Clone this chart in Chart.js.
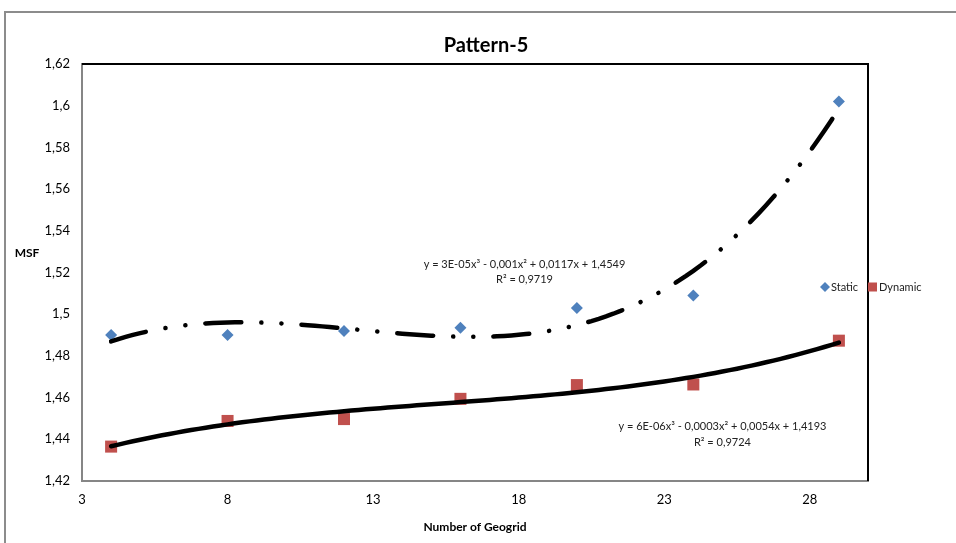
<!DOCTYPE html>
<html lang="en">
<head>
  <meta charset="UTF-8">
  <title>Pattern-5</title>
  <script src="https://cdn.jsdelivr.net/npm/chart.js"></script>
  <style>
    html, body { margin: 0; padding: 0; background: #fff; overflow: hidden; }
    #frame {
      position: absolute; left: 4px; top: 11px;
      width: 1000px; height: 600px;
      border: 2px solid #8c8c8c;
    }
    #wrap { position: absolute; left: 0; top: 0; width: 956px; height: 543px; }
  </style>
</head>
<body>
<div id="frame"></div>
<div id="wrap"><canvas id="msfChart" width="956" height="543"></canvas></div>
<script>
const geogrid = [4, 8, 12, 16, 20, 24, 29];
const staticMsf = [1.490, 1.490, 1.492, 1.4935, 1.503, 1.509, 1.602];
const dynamicMsf = [1.4365, 1.4488, 1.4497, 1.4594, 1.466, 1.4663, 1.4873];
const xTicks = [3, 8, 13, 18, 23, 28];
const yTicks = [1.42, 1.44, 1.46, 1.48, 1.5, 1.52, 1.54, 1.56, 1.58, 1.6, 1.62];
const staticEq = ['y = 3E-05x³ - 0,001x² + 0,0117x + 1,4549', 'R² = 0,9719'];
const dynamicEq = ['y = 6E-06x³ - 0,0003x² + 0,0054x + 1,4193', 'R² = 0,9724'];

const FONT = 'Lato, "Open Sans", sans-serif';
const BLUE = '#4F81BD';
const RED = '#C0504D';

// least-squares polynomial fit, returns coefficients c0..cdeg
function polyFit(xs, ys, deg) {
  const n = deg + 1;
  const A = Array.from({ length: n }, () => new Array(n + 1).fill(0));
  xs.forEach((x, k) => {
    for (let i = 0; i < n; i++) {
      for (let j = 0; j < n; j++) A[i][j] += Math.pow(x, i + j);
      A[i][n] += ys[k] * Math.pow(x, i);
    }
  });
  for (let c = 0; c < n; c++) {
    let p = c;
    for (let r = c + 1; r < n; r++) if (Math.abs(A[r][c]) > Math.abs(A[p][c])) p = r;
    [A[c], A[p]] = [A[p], A[c]];
    for (let r = 0; r < n; r++) {
      if (r === c) continue;
      const f = A[r][c] / A[c][c];
      for (let k = c; k <= n; k++) A[r][k] -= f * A[c][k];
    }
  }
  return A.map((row, i) => row[n] / row[i]);
}

function trend(xs, ys) {
  const c = polyFit(xs, ys, 3);
  const pts = [];
  const x0 = xs[0], x1 = xs[xs.length - 1];
  for (let x = x0; x <= x1 + 1e-9; x += 0.25) {
    pts.push({ x, y: c.reduce((s, ci, i) => s + ci * Math.pow(x, i), 0) });
  }
  return pts;
}

const toPts = ys => geogrid.map((x, i) => ({ x, y: ys[i] }));
const comma = v => String(+v.toFixed(2)).replace('.', ',');

const decorations = {
  id: 'decorations',
  beforeDatasetsDraw(chart) {
    const { ctx, chartArea: a } = chart;
    ctx.save();
    ctx.strokeStyle = '#000';
    ctx.lineWidth = 2;
    ctx.beginPath();
    ctx.moveTo(a.left, a.top);
    ctx.lineTo(a.right, a.top);
    ctx.lineTo(a.right, a.bottom);
    ctx.stroke();
    ctx.restore();
  },
  afterDraw(chart) {
    const { ctx, scales: { x, y } } = chart;
    ctx.save();
    ctx.fillStyle = '#000';
    ctx.textAlign = 'center';
    ctx.textBaseline = 'middle';
    ctx.font = 'bold 20px ' + FONT;
    ctx.fillText('Pattern-5', 486, 46);
    ctx.font = 'bold 12px ' + FONT;
    ctx.fillText('MSF', 27, 253);

    // trendline equations
    ctx.font = '11px ' + FONT;
    ctx.fillStyle = '#222';
    ctx.fillText(staticEq[0], x.getPixelForValue(18.2), y.getPixelForValue(1.5237));
    ctx.fillText(staticEq[1], x.getPixelForValue(18.2), y.getPixelForValue(1.5165));
    ctx.fillText(dynamicEq[0], x.getPixelForValue(25.0), y.getPixelForValue(1.4462));
    ctx.fillText(dynamicEq[1], x.getPixelForValue(25.0), y.getPixelForValue(1.4387));

    // legend
    const ly = 287;
    ctx.fillStyle = BLUE;
    ctx.beginPath();
    ctx.moveTo(825, ly - 5); ctx.lineTo(830, ly); ctx.lineTo(825, ly + 5); ctx.lineTo(820, ly);
    ctx.closePath();
    ctx.fill();
    ctx.fillStyle = RED;
    ctx.fillRect(868, ly - 4.5, 9, 9);
    ctx.fillStyle = '#222';
    ctx.textAlign = 'left';
    ctx.fillText('Static', 831, ly);
    ctx.fillText('Dynamic', 879, ly);
    ctx.restore();
  }
};

new Chart(document.getElementById('msfChart'), {
  type: 'scatter',
  data: {
    datasets: [
      { label: 'Static', data: toPts(staticMsf), pointStyle: 'rectRot', pointRadius: 6,
        backgroundColor: BLUE, borderColor: BLUE, borderWidth: 0, order: 2 },
      { label: 'Dynamic', data: toPts(dynamicMsf), pointStyle: 'rect', pointRadius: 8.5,
        backgroundColor: RED, borderColor: RED, borderWidth: 0, order: 2 },
      { type: 'line', label: 'Static trend', data: trend(geogrid, staticMsf), showLine: true,
        borderColor: '#000', borderWidth: 4.5, borderDash: [36, 20, 0.1, 20, 0.1, 20],
        borderCapStyle: 'round', pointRadius: 0, tension: 0, fill: false, order: 1 },
      { type: 'line', label: 'Dynamic trend', data: trend(geogrid, dynamicMsf), showLine: true,
        borderColor: '#000', borderWidth: 4.5, borderCapStyle: 'round',
        pointRadius: 0, tension: 0, fill: false, order: 1 }
    ]
  },
  options: {
    responsive: false,
    animation: false,
    layout: { padding: { left: 0, top: 64, right: 88, bottom: 0 } },
    plugins: { legend: { display: false }, tooltip: { enabled: false } },
    scales: {
      x: {
        type: 'linear', min: 3, max: 30,
        afterBuildTicks: s => { s.ticks = xTicks.map(v => ({ value: v })); },
        afterFit: s => { s.height = 62; },
        grid: { display: false, drawTicks: false },
        border: { display: true, color: '#868686', width: 2 },
        ticks: { padding: 11, color: '#000', font: { family: FONT, size: 13 } },
        title: { display: true, text: 'Number of Geogrid', color: '#000',
          font: { family: FONT, size: 12, weight: 'bold' }, padding: { top: 0, bottom: 9 } }
      },
      y: {
        min: 1.42, max: 1.62,
        afterBuildTicks: s => { s.ticks = yTicks.map(v => ({ value: v })); },
        afterFit: s => { s.width = 82; },
        grid: { display: false, drawTicks: false },
        border: { display: true, color: '#868686', width: 2 },
        ticks: { padding: 12, color: '#000', font: { family: FONT, size: 13 }, callback: v => comma(v) }
      }
    }
  },
  plugins: [decorations]
});
</script>
</body>
</html>
